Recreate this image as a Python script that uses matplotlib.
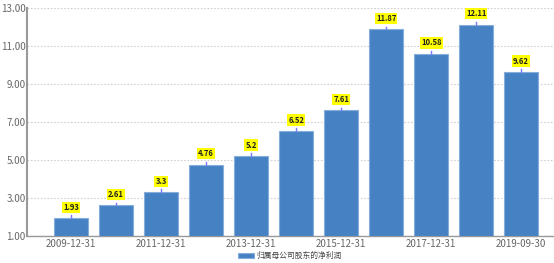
import matplotlib
matplotlib.use("Agg")
import matplotlib.pyplot as plt

plt.rcParams['font.family'] = ['Noto Sans CJK SC', 'DejaVu Sans']

categories = ["2009-12-31", "2010-12-31", "2011-12-31", "2012-12-31", "2013-12-31",
              "2014-12-31", "2015-12-31", "2016-12-31", "2017-12-31", "2018-12-31",
              "2019-09-30"]
values = [1.93, 2.61, 3.3, 4.76, 5.2, 6.52, 7.61, 11.87, 10.58, 12.11, 9.62]
value_labels = ["1.93", "2.61", "3.3", "4.76", "5.2", "6.52", "7.61", "11.87", "10.58", "12.11", "9.62"]
yticks = [1, 3, 5, 7, 9, 11, 13]
series_name = "归属母公司股东的净利润"

fig = plt.figure(figsize=(5.54, 2.63), dpi=100)
ax = fig.add_axes([27/554, 1-236/263, 1-27/554, 228/263])

x = list(range(len(categories)))
bars = ax.bar(x, [v - 1 for v in values], bottom=1, width=0.75,
              color='#4682C3', edgecolor='#86AEDB', linewidth=0.8,
              label=series_name, zorder=3)

ax.set_ylim(1, 13)
ax.set_xlim(-0.98, 10.73)
ax.set_yticks(yticks)
ax.set_yticklabels([f"{t:.2f}" for t in yticks])
ax.set_xticks(x[::2])
ax.set_xticklabels(categories[::2])
ax.tick_params(axis='both', labelsize=7, colors='#666666', length=0, pad=2)
ax.tick_params(axis='y', pad=1)

ax.grid(axis='y', linestyle=(0, (1.5, 1.5)), color='#d0d0d0', linewidth=0.8, zorder=0)
for s in ['top', 'right']:
    ax.spines[s].set_visible(False)
ax.spines['left'].set_color('#999999')
ax.spines['left'].set_linewidth(1.5)
ax.spines['bottom'].set_color('#999999')
ax.spines['bottom'].set_linewidth(1.0)

for xi, v, lab in zip(x, values, value_labels):
    ax.plot([xi, xi], [v, v + 0.15], color='#7a7aff', lw=1, zorder=4, clip_on=False)
    ax.annotate(lab, (xi, v), xytext=(0, 8), textcoords='offset points',
                ha='center', va='center', fontsize=5.5, fontweight='bold', color='#222222',
                bbox=dict(boxstyle='square,pad=0.15', fc='#FFFF00', ec='none'),
                zorder=5, annotation_clip=False)

leg = fig.legend(handles=[bars], labels=[series_name], loc='center',
                 bbox_to_anchor=(290/554, 1-256/263), frameon=False,
                 fontsize=5.6, handlelength=2.0, handleheight=0.5, handletextpad=0.3,
                 labelcolor='#444444')

fig.savefig("out.png", dpi=100)
